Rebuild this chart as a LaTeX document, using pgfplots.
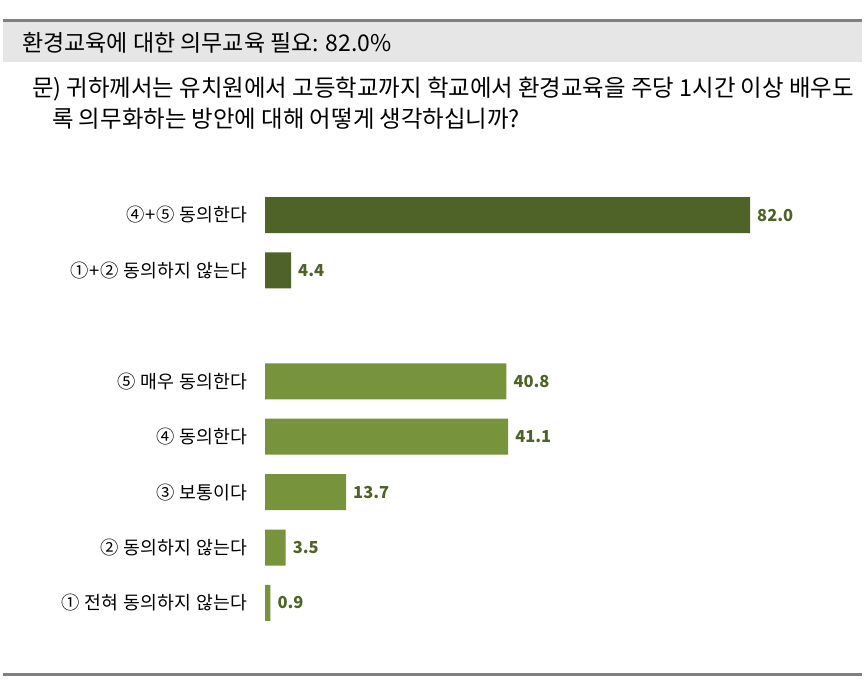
\documentclass[border=0pt]{standalone}
\usepackage{pgfplots}
\pgfplotsset{compat=1.18}
\usepackage{fontspec}
\setmainfont{Noto Sans CJK KR}
\newfontfamily\kr{Noto Sans CJK KR}
\newfontfamily\krl[LetterSpace=2.5]{Noto Sans CJK KR}
\definecolor{darkg}{HTML}{4F6228}
\definecolor{lightg}{HTML}{77933C}
\definecolor{lineg}{HTML}{808080}
\definecolor{bandg}{HTML}{E6E6E6}
\begin{document}
\begin{tikzpicture}[x=1pt,y=1pt]
\path[use as bounding box] (0pt,0pt) rectangle (865pt,686pt);
% header
\fill[bandg] (3pt,624pt) rectangle (862pt,664pt);
\fill[lineg] (3pt,664pt) rectangle (862pt,667pt);
\fill[lineg] (3pt,10pt) rectangle (862pt,13pt);
\node[anchor=west,inner sep=0pt,font=\kr\fontsize{23}{26}\selectfont] at (22pt,643pt) {환경교육에 대한 의무교육 필요: 82.0\%};
\node[anchor=west,inner sep=0pt,font=\kr\fontsize{23.4}{26}\selectfont] at (32pt,597pt) {문) 귀하께서는 유치원에서 고등학교까지 학교에서 환경교육을 주당 1시간 이상 배우도};
\node[anchor=west,inner sep=0pt,font=\kr\fontsize{23.4}{26}\selectfont] at (52pt,567pt) {록 의무화하는 방안에 대해 어떻게 생각하십니까?};
\begin{axis}[
  at={(265pt,55.3pt)}, anchor=south west,
  scale only axis, width=485pt, height=443.4pt,
  xmin=0, xmax=82, ymin=-0.5, ymax=7.5, y dir=reverse,
  axis line style={draw=none},
  xtick=\empty,
  ytick={0,1,3,4,5,6,7},
  yticklabels={④+⑤ 동의한다,①+② 동의하지 않는다,⑤ 매우 동의한다,④ 동의한다,③ 보통이다,② 동의하지 않는다,① 전혀 동의하지 않는다},
  major tick length=0pt,
  yticklabel style={anchor=east, inner sep=0pt, xshift=-17pt, font=\krl\fontsize{18.3}{20}\selectfont},
  xbar, bar width=36pt, bar shift=0pt,
  clip=false,
  nodes near coords,
  nodes near coords style={anchor=west, inner sep=0pt, xshift=7pt, text=darkg, font=\kr\bfseries\fontsize{16.5}{18}\selectfont, /pgf/number format/.cd, fixed, fixed zerofill, precision=1, assume math mode=true},
]
\addplot[draw=none, fill=darkg] coordinates {(82.0,0) (4.4,1)};
\addplot[draw=none, fill=lightg] coordinates {(40.8,3) (41.1,4) (13.7,5) (3.5,6) (0.9,7)};
\end{axis}
\end{tikzpicture}
\end{document}
